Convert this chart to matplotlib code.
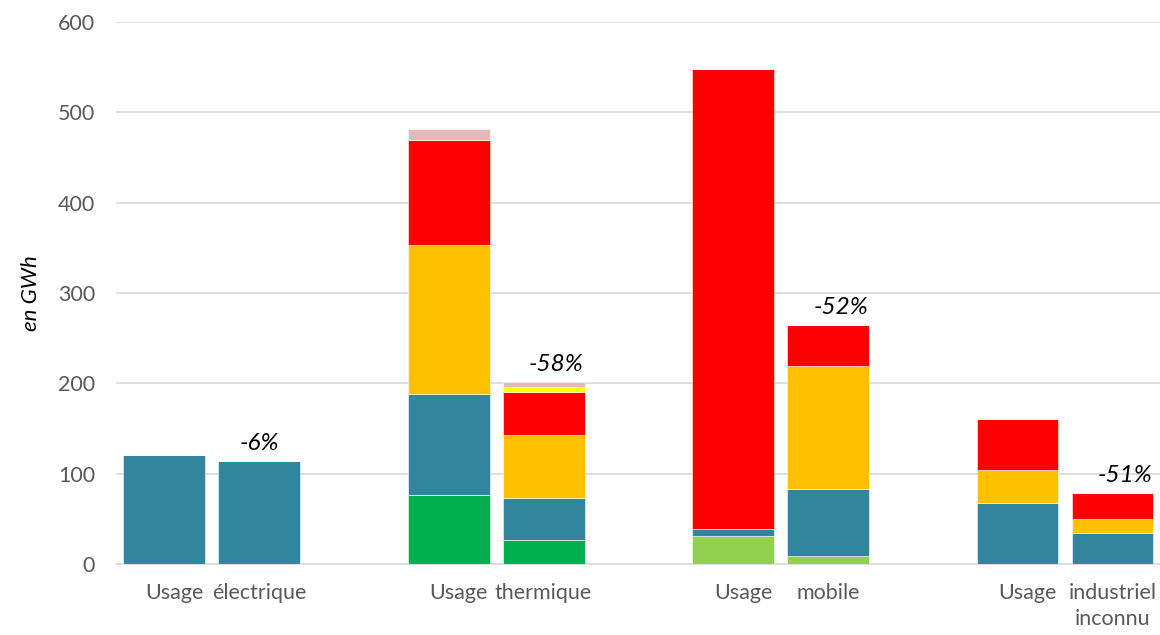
import numpy as np
import matplotlib
matplotlib.use("Agg")
import matplotlib.pyplot as plt

plt.rcParams["font.family"] = ["Lato", "DejaVu Sans"]

# one entry per bar: (before, after) for each usage
bar_labels = ["Usage", "électrique", "Usage", "thermique",
              "Usage", "mobile", "Usage", "industriel\ninconnu"]

green = [0, 0, 76, 27, 0, 0, 0, 0]
light_green = [0, 0, 0, 0, 31, 9, 0, 0]
teal = [121, 114, 112, 46, 8, 74, 68, 34]
orange = [0, 0, 165, 70, 0, 136, 36, 16]
red = [0, 0, 116, 47, 509, 46, 56, 29]
yellow = [0, 0, 0, 5.5, 0, 0, 0, 0]
pink = [0, 0, 12, 6, 0, 0, 0, 0]

series = [
    (green, "#00b050"),
    (light_green, "#92d050"),
    (teal, "#31859c"),
    (orange, "#ffc000"),
    (red, "#ff0000"),
    (yellow, "#ffff00"),
    (pink, "#e6b9b8"),
]

n_groups = 4
offset = 0.167
width = 0.288
x = np.array([[g - offset, g + offset] for g in range(n_groups)]).ravel()

fig = plt.figure(figsize=(11.6, 6.35), dpi=100)
ax = fig.add_axes([116 / 1160, 71 / 635, 1 - 116 / 1160, 542 / 635])

bottom = np.zeros(len(x))
for vals, col in series:
    vals = np.array(vals, dtype=float)
    ax.bar(x, vals, width, bottom=bottom, color=col, edgecolor="white",
           linewidth=0.4, zorder=3)
    bottom += vals

# change between before/after totals, written above the "after" bar
for g in range(n_groups):
    before, after = bottom[2 * g], bottom[2 * g + 1]
    pct = round((after / before - 1) * 100)
    ax.annotate(f"{pct}%", (x[2 * g + 1], after), xytext=(0 if g == 0 else 9, 5),
                textcoords="offset points", ha="center", va="bottom",
                fontsize=17.5, style="italic", color="black")

ax.set_ylim(0, 600)
ax.set_xlim(-0.336, 3.334)
ax.set_yticks(range(0, 601, 100))
ax.yaxis.grid(True, color="#d9d9d9", linewidth=1.2, zorder=0)
ax.set_axisbelow(True)
for s in ["top", "right", "left"]:
    ax.spines[s].set_visible(False)
ax.spines["bottom"].set_color("#d9d9d9")
ax.spines["bottom"].set_linewidth(1.2)

# "Usage" sits a little towards its partner label
label_x = x + np.tile([0.035, 0.0], n_groups)
ax.set_xticks(label_x)
ax.set_xticklabels(bar_labels, linespacing=1.35)
ax.tick_params(axis="x", length=0, pad=14, labelsize=15.5, labelcolor="#595959")
ax.tick_params(axis="y", length=0, pad=15, labelsize=15.5, labelcolor="#595959")

ax.set_ylabel("en GWh", fontsize=16, style="italic", color="black", labelpad=12)

fig.savefig("out.png", dpi=100)
